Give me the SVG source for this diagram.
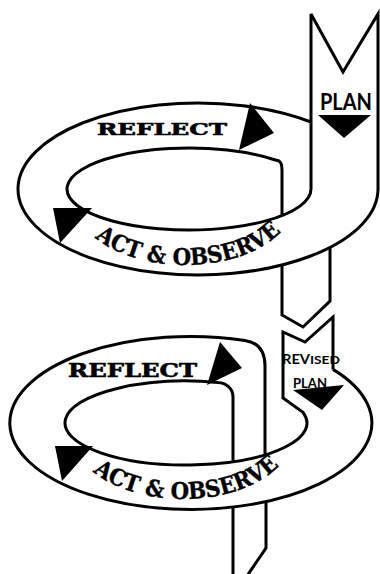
<svg xmlns="http://www.w3.org/2000/svg" width="380" height="574" viewBox="0 0 380 574">
<style>
.ln{fill:none;stroke:#000;stroke-width:3}
.ah{fill:#000;stroke:none}
.rf{font-family:"DejaVu Serif","Liberation Serif",serif;font-weight:bold;fill:#000;stroke:#000;stroke-width:0.6}
.ao{font-family:"DejaVu Serif","Liberation Serif",serif;font-weight:bold;font-size:23px;fill:#000;stroke:#000;stroke-width:0.4}
.pl{font-family:Lato,"Liberation Sans",sans-serif;fill:#000}
</style>
<defs>
<path id="arc1" d="M75,200 A110,65 0 0,0 295,200"/>
<path id="arc2" d="M73,434 A110,65 0 0,0 293,434"/>
</defs>
<g id="connectors">
<path id="ring1" class="ln" d="M311,122 A180,86 0 1,0 378,189 L378,14 L343,72 L311,14 L311,189 A122,41 0 1,1 272,159 L279,161 Q282,163 282,170 L282,215.5"/>
<path id="strip1" class="ln" d="M282,265 L282,315 L303,327 L330,301 L330,247.5"/>
<path id="ring2-outer" class="ln" d="M333,369.4 A181,86.5 0 1,1 245,340.4 C255,342 265,348 265,366 L265,455"/>
<path id="ring2-inner" class="ln" d="M333,369.4 L333,317 L305,342 L283,332 L283,398 L303,412.3 A121,42 0 1,1 218,382.5 C226,383 233,388 233,397 L233,461.7"/>
<path id="strip2" class="ln" d="M233,507.2 L233,576 M266,501.7 L266,548 L247,576"/>
</g>
<g id="arrows">
<polygon class="ah" points="250,103 274,133 239,150"/>
<polygon class="ah" points="53,208 92,208 60,243"/>
<polygon class="ah" points="318,115 371,115 344,138"/>
<polygon class="ah" points="220,342 242,368 207,385"/>
<polygon class="ah" points="55,446 93,446 62,481"/>
<polygon class="ah" points="293,390 344,385 322,410"/>
</g>
<g id="plan">
<text class="pl" x="320" y="110" font-size="22" font-weight="bold" textLength="52" lengthAdjust="spacingAndGlyphs">PLAN</text>
</g>
<g id="reflect1">
<text class="rf" x="97" y="135" font-size="16.5" textLength="130" lengthAdjust="spacingAndGlyphs">REFLECT</text>
</g>
<g id="act1">
<text class="ao"><textPath href="#arc1" startOffset="44" textLength="200" lengthAdjust="spacingAndGlyphs">ACT &amp; OBSERVE</textPath></text>
</g>
<g id="revised">
<text class="pl" y="364" font-weight="bold"><tspan x="282" font-size="14" textLength="28" lengthAdjust="spacingAndGlyphs">REV</tspan><tspan x="310" font-size="12" textLength="30" lengthAdjust="spacingAndGlyphs">ISED</tspan></text>
<text class="pl" x="293" y="388" font-size="13" font-weight="bold" textLength="34" lengthAdjust="spacingAndGlyphs">PLAN</text>
</g>
<g id="reflect2">
<text class="rf" x="68" y="377" font-size="18.5" textLength="129" lengthAdjust="spacingAndGlyphs">REFLECT</text>
</g>
<g id="act2">
<text class="ao"><textPath href="#arc2" startOffset="44" textLength="200" lengthAdjust="spacingAndGlyphs">ACT &amp; OBSERVE</textPath></text>
</g>
</svg>
